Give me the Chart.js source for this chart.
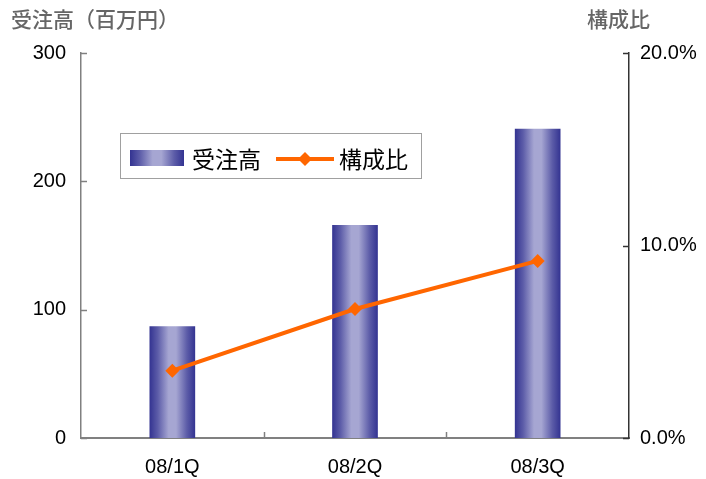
<!DOCTYPE html>
<html>
<head>
<meta charset="utf-8">
<script src="https://cdn.jsdelivr.net/npm/chart.js@4/dist/chart.umd.min.js"></script>
<style>
  html, body { margin: 0; padding: 0; background: #fff; }
  #wrap { width: 706px; height: 479px; position: relative; }
</style>
</head>
<body>
<div id="wrap"><canvas id="chart" width="706" height="479"></canvas></div>
<script>
const categories = ["08/1Q", "08/2Q", "08/3Q"];
const orders = [87, 166, 241];        // 受注高（百万円）
const ratio = [3.5, 6.7, 9.2];        // 構成比 (%)
const leftTicks = [0, 100, 200, 300];
const rightTicks = [0, 10, 20];

const numFont = "'Liberation Sans', Arial, sans-serif";
const jpFont = "'Noto Sans CJK JP', sans-serif";

function barGradient(ctx, x0, x1) {
  const g = ctx.createLinearGradient(x0, 0, x1, 0);
  g.addColorStop(0, "#333391");
  g.addColorStop(0.18, "#5c5ca8");
  g.addColorStop(0.42, "#a6a6d2");
  g.addColorStop(0.58, "#a6a6d2");
  g.addColorStop(0.82, "#5c5ca8");
  g.addColorStop(1, "#333391");
  return g;
}

// draws the axis titles, inward tick marks and the boxed legend
const decor = {
  id: "decor",
  afterDraw(chart) {
    const ctx = chart.ctx;
    const area = chart.chartArea;
    const yl = chart.scales.y, yr = chart.scales.y2, x = chart.scales.x;
    ctx.save();
    ctx.strokeStyle = "#808080";
    ctx.lineWidth = 1.5;
    leftTicks.forEach(v => {
      const p = Math.round(yl.getPixelForValue(v)) + 0.5;
      ctx.beginPath(); ctx.moveTo(area.left, p); ctx.lineTo(area.left + 6, p); ctx.stroke();
    });
    ctx.strokeStyle = "#333";
    rightTicks.forEach(v => {
      const p = Math.round(yr.getPixelForValue(v)) + 0.5;
      ctx.beginPath(); ctx.moveTo(area.right, p); ctx.lineTo(area.right - 6, p); ctx.stroke();
    });
    ctx.strokeStyle = "#808080";
    for (let i = 1; i < categories.length; i++) {
      const p = Math.round((x.getPixelForValue(i - 1) + x.getPixelForValue(i)) / 2) + 0.5;
      ctx.beginPath(); ctx.moveTo(p, area.bottom); ctx.lineTo(p, area.bottom - 6); ctx.stroke();
    }

    // axis titles
    ctx.fillStyle = "#666";
    ctx.font = "500 21px " + jpFont;
    ctx.textBaseline = "middle";
    ctx.textAlign = "left";
    ctx.fillText("受注高（百万円）", 11, 19);
    ctx.fillText("構成比", 587, 19);

    // legend
    ctx.fillStyle = "#fff";
    ctx.fillRect(120, 133, 301, 45);
    ctx.strokeStyle = "#a0a0a0";
    ctx.lineWidth = 1;
    ctx.strokeRect(120.5, 133.5, 301, 45);
    ctx.fillStyle = barGradient(ctx, 130, 184);
    ctx.fillRect(130, 150, 54, 16);
    ctx.strokeStyle = "#ff6600";
    ctx.lineWidth = 4;
    ctx.beginPath(); ctx.moveTo(276, 159); ctx.lineTo(334, 159); ctx.stroke();
    ctx.fillStyle = "#ff6600";
    ctx.beginPath();
    ctx.moveTo(305, 152); ctx.lineTo(312, 159); ctx.lineTo(305, 166); ctx.lineTo(298, 159);
    ctx.closePath(); ctx.fill();
    ctx.fillStyle = "#000";
    ctx.font = "23px " + jpFont;
    ctx.fillText("受注高", 192, 159);
    ctx.fillText("構成比", 339, 159);
    ctx.restore();
  }
};

new Chart(document.getElementById("chart").getContext("2d"), {
  data: {
    labels: categories,
    datasets: [
      {
        type: "line",
        label: "構成比",
        data: ratio,
        yAxisID: "y2",
        borderColor: "#ff6600",
        borderWidth: 4,
        pointStyle: "rectRot",
        pointRadius: 7,
        pointBackgroundColor: "#ff6600",
        pointBorderWidth: 0,
        tension: 0,
        order: 0
      },
      {
        type: "bar",
        label: "受注高",
        data: orders,
        yAxisID: "y",
        barPercentage: 0.25,
        categoryPercentage: 1,
        backgroundColor(c) {
          const xs = c.chart.scales.x;
          if (!xs || c.dataIndex === undefined) return "#6666aa";
          const cx = xs.getPixelForValue(c.dataIndex);
          const w = (xs.width / categories.length) * 0.25;
          if (!isFinite(cx) || !isFinite(w) || w <= 0) return "#6666aa";
          return barGradient(c.chart.ctx, cx - w / 2, cx + w / 2);
        },
        order: 1
      }
    ]
  },
  options: {
    responsive: false,
    animation: false,
    layout: { padding: { top: 53, left: 0, right: 0, bottom: 0 } },
    plugins: { legend: { display: false }, tooltip: { enabled: false } },
    scales: {
      x: {
        offset: true,
        grid: { display: false, drawTicks: false },
        border: { display: true, color: "#808080", width: 2 },
        ticks: { color: "#000", font: { family: numFont, size: 20 }, padding: 17 },
        afterFit(s) { s.height = 41; }
      },
      y: {
        position: "left",
        min: 0, max: 300,
        grid: { display: false, drawTicks: false },
        border: { display: true, color: "#808080", width: 1.5 },
        ticks: { stepSize: 100, color: "#000", font: { family: numFont, size: 20 }, padding: 15 },
        afterFit(s) { s.width = 81; }
      },
      y2: {
        position: "right",
        min: 0, max: 20,
        grid: { display: false, drawTicks: false },
        border: { display: true, color: "#333", width: 1.5 },
        ticks: {
          stepSize: 10, color: "#000", font: { family: numFont, size: 20 }, padding: 11,
          callback: v => v.toFixed(1) + "%"
        },
        afterFit(s) { s.width = 77; }
      }
    }
  },
  plugins: [decor]
});
</script>
</body>
</html>
